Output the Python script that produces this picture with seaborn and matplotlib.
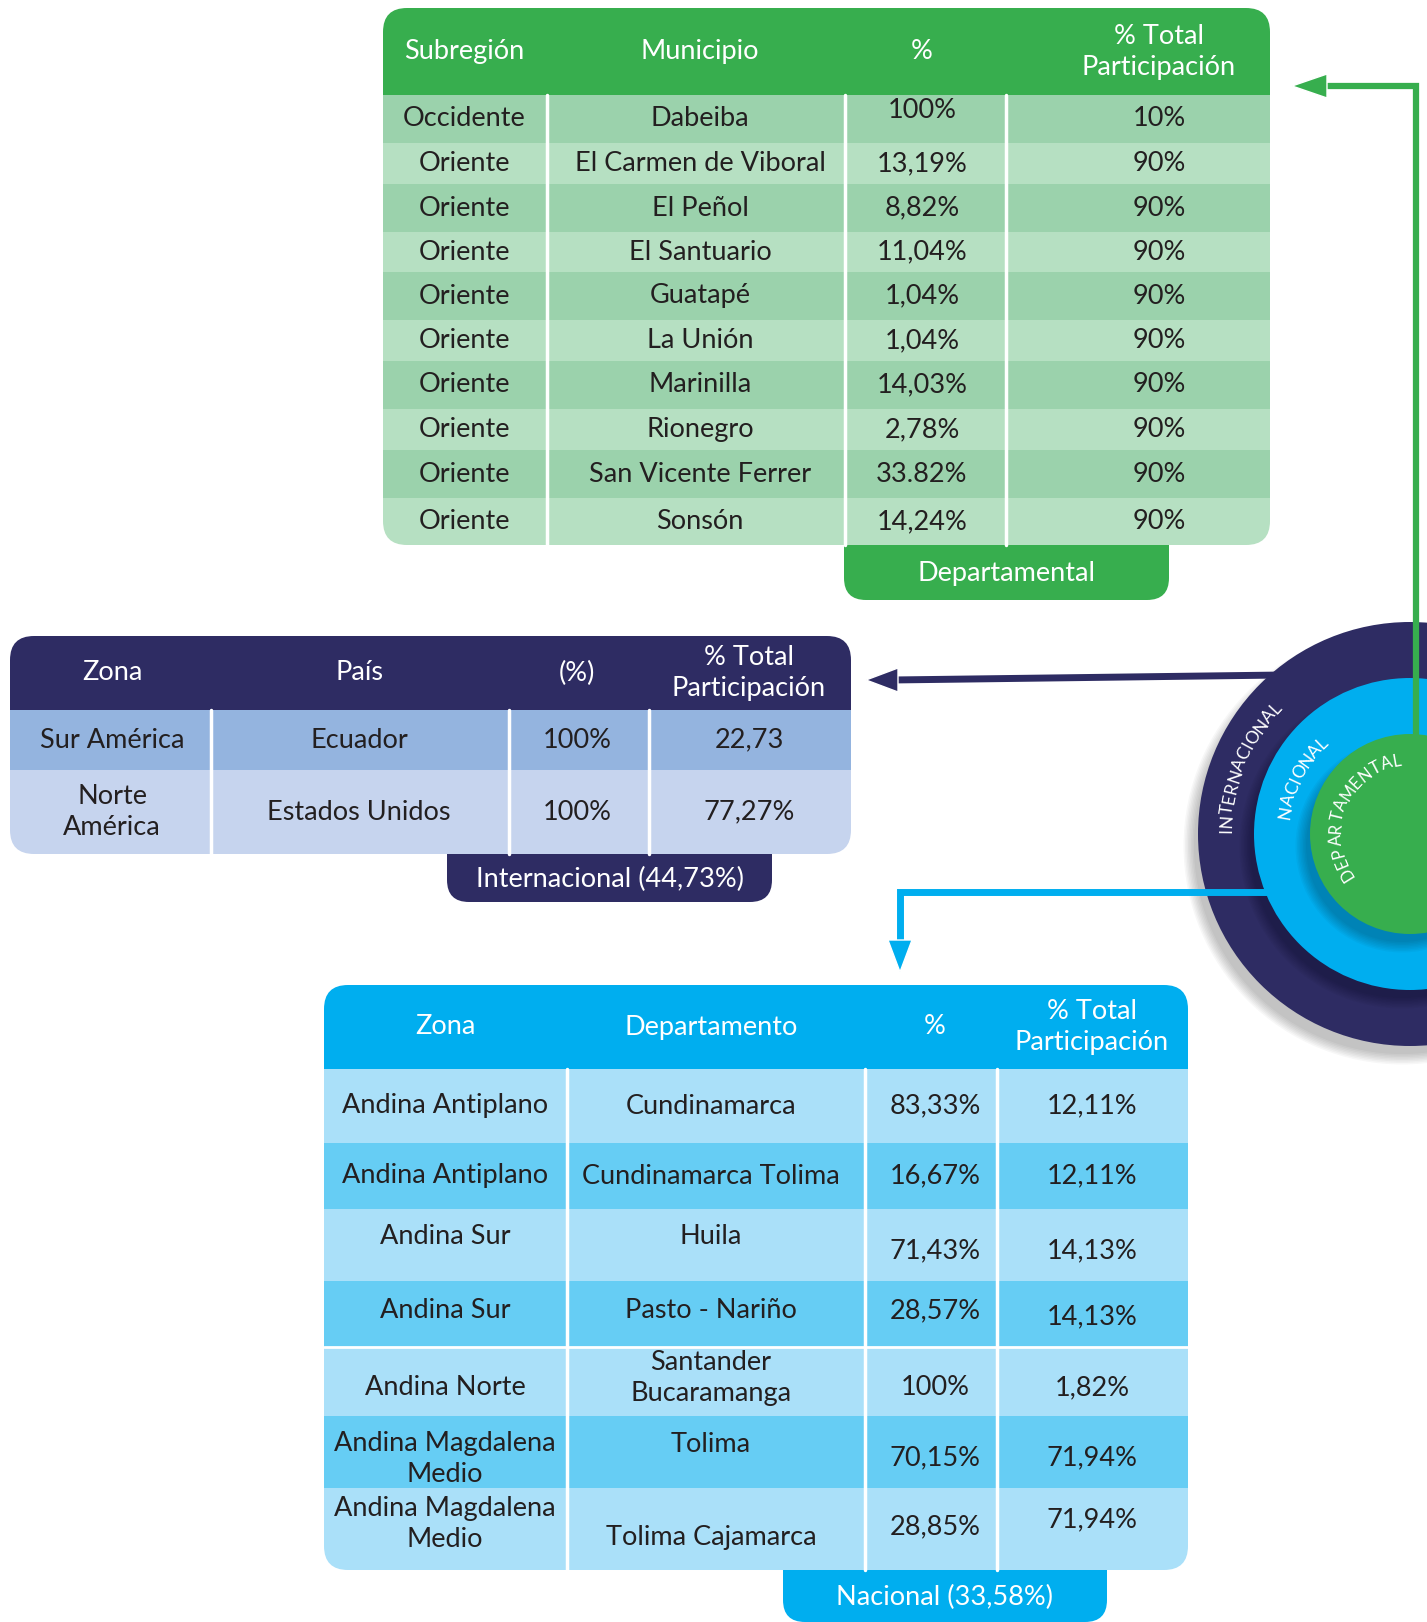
import numpy as np
import pandas as pd
import seaborn as sns
import matplotlib
import matplotlib.pyplot as plt
from matplotlib.patches import FancyBboxPatch, Rectangle, Circle, Polygon

# Participation by level: departamental / internacional / nacional

# Data
dep_header = ['Subregión', 'Municipio', '%', '% Total\nParticipación']
dep_subregion = ['Occidente', 'Oriente', 'Oriente', 'Oriente', 'Oriente',
                 'Oriente', 'Oriente', 'Oriente', 'Oriente', 'Oriente']
dep_municipio = ['Dabeiba', 'El Carmen de Viboral', 'El Peñol', 'El Santuario', 'Guatapé',
                 'La Unión', 'Marinilla', 'Rionegro', 'San Vicente Ferrer', 'Sonsón']
dep_pct = ['100%', '13,19%', '8,82%', '11,04%', '1,04%', '1,04%', '14,03%', '2,78%', '33.82%', '14,24%']
dep_total = ['10%', '90%', '90%', '90%', '90%', '90%', '90%', '90%', '90%', '90%']
dep_tab = 'Departamental'

int_header = ['Zona', 'País', '(%)', '% Total\nParticipación']
int_zona = ['Sur América', 'Norte\nAmérica']
int_pais = ['Ecuador', 'Estados Unidos']
int_pct = ['100%', '100%']
int_total = ['22,73', '77,27%']
int_tab = 'Internacional (44,73%)'

nac_header = ['Zona', 'Departamento', '%', '% Total\nParticipación']
nac_zona = ['Andina Antiplano', 'Andina Antiplano', 'Andina Sur', 'Andina Sur', 'Andina Norte',
            'Andina Magdalena\nMedio', 'Andina Magdalena\nMedio']
nac_depto = ['Cundinamarca', 'Cundinamarca Tolima', 'Huila', 'Pasto - Nariño',
             'Santander\nBucaramanga', 'Tolima', 'Tolima Cajamarca']
nac_pct = ['83,33%', '16,67%', '71,43%', '28,57%', '100%', '70,15%', '28,85%']
nac_total = ['12,11%', '12,11%', '14,13%', '14,13%', '1,82%', '71,94%', '71,94%']
nac_tab = 'Nacional (33,58%)'

ring_labels = ['INTERNACIONAL', 'NACIONAL', 'DEPARTAMENTAL']

df_dep = pd.DataFrame({'a': dep_subregion, 'b': dep_municipio, 'c': dep_pct, 'd': dep_total})
df_int = pd.DataFrame({'a': int_zona, 'b': int_pais, 'c': int_pct, 'd': int_total})
df_nac = pd.DataFrame({'a': nac_zona, 'b': nac_depto, 'c': nac_pct, 'd': nac_total})

# Colours
GREEN = '#37ae4e'
NAVY = '#2e2c63'
BLUE = '#00aeef'
TXT = '#231f20'

# Plot style
sns.set_theme(style='white')
plt.rcParams['font.family'] = ['Lato', 'DejaVu Sans']

W, H = 1427, 1622
fig = plt.figure(figsize=(W / 100, H / 100), dpi=100)
ax = fig.add_axes([0, 0, 1, 1])
ax.set_xlim(0, W)
ax.set_ylim(H, 0)
ax.axis('off')

FS = 19.5
LS = 1.3


def rounded(x0, y0, x1, y1, r, **kw):
    return FancyBboxPatch((x0, y0), x1 - x0, y1 - y0,
                          boxstyle=f"round,pad=0,rounding_size={r}", **kw)


def draw_table(df, header, cols, tx, top, hdr, rows, hcol, rcols, dy={}):
    left, right = cols[0], cols[-1]
    clip = rounded(left, top, right, rows[-1], 24, facecolor='none', edgecolor='none')
    ax.add_patch(clip)
    r = Rectangle((left, top), right - left, hdr - top, facecolor=hcol, edgecolor='none', zorder=2)
    ax.add_patch(r)
    r.set_clip_path(clip)
    for i in range(len(df)):
        r = Rectangle((left, rows[i]), right - left, rows[i + 1] - rows[i],
                      facecolor=rcols[i % len(rcols)], edgecolor='none', zorder=2)
        ax.add_patch(r)
        r.set_clip_path(clip)
    for c in cols[1:-1]:
        ax.plot([c, c], [hdr, rows[-1]], color='white', lw=2.5, zorder=3)
    for j, h in enumerate(header):
        ax.text(tx[j], (top + hdr) / 2, h, color='white', fontsize=FS, ha='center',
                va='center', linespacing=LS, zorder=4)
    for i in range(len(df)):
        yc = (rows[i] + rows[i + 1]) / 2
        for j, val in enumerate(df.iloc[i]):
            ax.text(tx[j], yc + dy.get((i, j), 0), val, color=TXT, fontsize=FS, ha='center',
                    va='center', linespacing=LS, zorder=4)


def draw_tab(x0, x1, y0, y1, col, label):
    p = rounded(x0, y0 - 30, x1, y1, 22, facecolor=col, edgecolor='none', zorder=1)
    ax.add_patch(p)
    ax.text((x0 + x1) / 2, (y0 + y1) / 2 + 1, label, color='white', fontsize=FS,
            ha='center', va='center', zorder=4)


# Departamental table
draw_tab(844, 1169, 545, 600, GREEN, dep_tab)
draw_table(df_dep, dep_header, [383, 547, 845, 1006, 1270], [464, 700, 922, 1159],
           8, 95, [95, 143, 184, 232, 272, 320, 361, 409, 450, 498, 545],
           GREEN, ['#9bd2ac', '#b6e0c2'], dy={(0, 2): -9})

# Internacional table
draw_tab(447, 772, 854, 902, NAVY, int_tab)
draw_table(df_int, int_header, [10, 211, 509, 649, 851], [112, 359, 577, 749],
           636, 710, [710, 770, 854], NAVY, ['#94b4df', '#c6d4ee'])

# Nacional table
draw_tab(783, 1107, 1570, 1622, BLUE, nac_tab)
nac_dy = {(2, 0): -8, (2, 1): -8, (2, 2): 6, (2, 3): 6,
          (3, 0): -3, (3, 1): -3, (3, 2): -3, (3, 3): 3,
          (4, 0): 6, (4, 1): -4, (4, 2): 6, (4, 3): 6,
          (5, 0): 7, (5, 1): -8, (5, 2): 6, (5, 3): 6,
          (6, 0): -5, (6, 1): 9, (6, 2): -2, (6, 3): -9}
draw_table(df_nac, nac_header, [324, 567, 865, 997, 1188], [445, 711, 935, 1092],
           985, 1069, [1069, 1143, 1209, 1281, 1347, 1416, 1488, 1570],
           BLUE, ['#aae0f9', '#66cdf4'], dy=nac_dy)
ax.plot([324, 1188], [1347, 1347], color='white', lw=2, zorder=3)

# Concentric circles with soft shadows toward the lower left
cx, cy = 1410, 834
for rad, col in zip([212, 156, 100], [NAVY, BLUE, GREEN]):
    for k in range(8):
        ax.add_patch(Circle((cx - 8, cy + 12), rad - 4 + k * 1.5, facecolor='black',
                            edgecolor='none', alpha=0.03, zorder=5))
    ax.add_patch(Circle((cx, cy), rad, facecolor=col, edgecolor='none', zorder=5))

wid = {'I': 0.45, 'M': 0.95, 'N': 0.85, 'C': 0.8, 'O': 0.88, 'D': 0.85, 'A': 0.8,
       'T': 0.72, 'E': 0.7, 'L': 0.62, 'R': 0.78, 'P': 0.72}


def arc_text(txt, r, t0, t1, fs=12.5):
    w = np.array([wid.get(ch, 0.75) for ch in txt])
    pos = np.cumsum(w) - w / 2
    pos = (pos - pos[0]) / (pos[-1] - pos[0])
    for ch, p in zip(txt, pos):
        th = np.radians(t0 + (t1 - t0) * p)
        ax.text(cx + r * np.cos(th), cy - r * np.sin(th), ch, color='white',
                fontsize=fs, ha='center', va='center',
                rotation=np.degrees(th) - 90, rotation_mode='anchor', zorder=6)


arc_text(ring_labels[0], 184, 179, 137)
arc_text(ring_labels[1], 126, 170, 134)
arc_text(ring_labels[2], 74, 212, 100, fs=12)

# Connector arrows
ax.plot([1416, 1416, 1320], [771, 86, 86], color=GREEN, lw=4.5, zorder=7,
        solid_joinstyle='miter', solid_capstyle='butt')
ax.add_patch(Polygon([[1292, 86], [1327, 74], [1327, 98]], facecolor=GREEN, zorder=7))

ax.plot([1283, 1283, 892], [690, 675, 680], color=NAVY, lw=5, zorder=7,
        solid_joinstyle='miter', solid_capstyle='butt')
ax.add_patch(Polygon([[866, 680], [898, 668], [898, 692]], facecolor=NAVY, zorder=7))

ax.plot([1283, 1283, 900, 900], [906, 892, 892, 945], color=BLUE, lw=5, zorder=7,
        solid_joinstyle='miter', solid_capstyle='butt')
ax.add_patch(Polygon([[900, 972], [888, 940], [912, 940]], facecolor=BLUE, zorder=7))

plt.savefig('out.png', dpi=100)
